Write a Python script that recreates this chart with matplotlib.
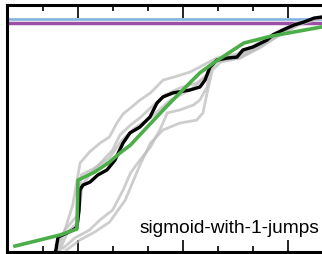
import matplotlib
matplotlib.use("Agg")
import matplotlib.pyplot as plt
from matplotlib.ticker import MultipleLocator

# reference levels
blue_level = 0.945
purple_level = 0.929

# sigmoid with one jump (fit)
green_x = [0.40, 0.64, 0.83, 0.99, 1.00, 1.16, 1.30, 1.40, 1.50, 1.66, 1.83, 1.97,
           2.16, 2.29, 2.45, 2.58, 2.84, 3.06, 3.32]
green_y = [0.024, 0.049, 0.069, 0.093, 0.291, 0.324, 0.364, 0.401, 0.433, 0.506, 0.583,
           0.644, 0.725, 0.765, 0.810, 0.846, 0.874, 0.891, 0.911]

# mean curve
black_x = [0.76, 0.79, 0.81, 0.895, 0.952, 0.99, 1.01, 1.019, 1.048, 1.114, 1.19, 1.276,
           1.352, 1.429, 1.495, 1.59, 1.686, 1.752, 1.81, 1.905, 2.067, 2.162, 2.21,
           2.257, 2.324, 2.419, 2.514, 2.571, 2.667, 2.80, 2.857, 2.952, 3.057, 3.152,
           3.248, 3.324]
black_y = [-0.02, 0.008, 0.061, 0.077, 0.089, 0.101, 0.17, 0.251, 0.271, 0.283, 0.312,
           0.332, 0.372, 0.441, 0.482, 0.506, 0.547, 0.603, 0.628, 0.644, 0.656, 0.668,
           0.696, 0.749, 0.777, 0.785, 0.789, 0.818, 0.83, 0.858, 0.879, 0.899, 0.919,
           0.931, 0.947, 0.951]

# individual runs
gray_runs = [
    ([0.81, 0.89, 0.95, 1.02, 1.11, 1.21, 1.30, 1.37, 1.43, 1.50, 1.59, 1.69, 1.81,
      1.92, 2.07, 2.23, 2.32, 2.51, 2.67, 2.86, 3.06, 3.32],
     [0.008, 0.109, 0.190, 0.360, 0.405, 0.441, 0.466, 0.522, 0.559, 0.583, 0.615,
      0.644, 0.696, 0.709, 0.729, 0.765, 0.785, 0.801, 0.834, 0.883, 0.923, 0.955]),
    ([0.83, 0.90, 1.00, 1.04, 1.13, 1.24, 1.33, 1.40, 1.50, 1.59, 1.69, 1.83, 1.97,
      2.13, 2.23, 2.32, 2.54, 2.73, 2.92, 3.11, 3.32],
     [0.008, 0.081, 0.121, 0.271, 0.324, 0.372, 0.413, 0.474, 0.514, 0.543, 0.583,
      0.636, 0.664, 0.684, 0.717, 0.777, 0.798, 0.838, 0.887, 0.923, 0.951]),
    ([0.86, 0.97, 1.11, 1.21, 1.33, 1.43, 1.50, 1.59, 1.69, 1.78, 1.85, 1.97, 2.10,
      2.16, 2.23, 2.26, 2.32, 2.54, 2.73, 2.92, 3.11, 3.32],
     [0.016, 0.057, 0.089, 0.130, 0.170, 0.251, 0.320, 0.372, 0.425, 0.494, 0.563,
      0.575, 0.595, 0.615, 0.668, 0.749, 0.777, 0.785, 0.826, 0.879, 0.923, 0.947]),
    ([0.89, 1.02, 1.16, 1.30, 1.45, 1.59, 1.69, 1.81, 1.97, 2.13, 2.19, 2.23, 2.28,
      2.36, 2.54, 2.73, 2.97, 3.16, 3.32],
     [0.008, 0.049, 0.081, 0.121, 0.210, 0.352, 0.441, 0.494, 0.522, 0.534, 0.563,
      0.644, 0.737, 0.769, 0.785, 0.830, 0.891, 0.931, 0.947]),
    ([0.79, 0.89, 1.00, 1.03, 1.16, 1.30, 1.42, 1.54, 1.69, 1.88, 2.07, 2.21, 2.30,
      2.49, 2.73, 3.02, 3.32],
     [0.028, 0.097, 0.150, 0.312, 0.340, 0.381, 0.453, 0.502, 0.543, 0.615, 0.656,
      0.704, 0.769, 0.789, 0.842, 0.911, 0.947]),
]

label = "sigmoid-with-1-jumps"

fig = plt.figure(figsize=(3.22, 2.54), dpi=100)
ax = fig.add_axes([7 / 322, 2 / 254, 333 / 322, 247 / 254])

ax.axhline(blue_level, color="#86b6de", lw=2, zorder=1)
ax.axhline(purple_level, color="#9b4fa5", lw=2.5, zorder=1)

for gx, gy in gray_runs:
    ax.plot(gx, gy, color="#bdbdbd", lw=2, alpha=0.75, zorder=2)
ax.plot(black_x, black_y, color="black", lw=2.4, zorder=3)
ax.plot(green_x, green_y, color="#4cae49", lw=2.6, zorder=4)

ax.set_xlim(0.324, 0.324 + 333 / 105)
ax.set_ylim(0, 1)

ax.xaxis.set_major_locator(MultipleLocator(1))
ax.xaxis.set_minor_locator(MultipleLocator(1 / 3))
ax.tick_params(axis="x", which="both", direction="in", top=True, bottom=True,
               labelbottom=False, labeltop=False, width=1.2)
ax.tick_params(axis="x", which="major", length=9)
ax.tick_params(axis="x", which="minor", length=4.5)
ax.tick_params(axis="y", left=False, labelleft=False)

for side in ["left", "top", "bottom", "right"]:
    ax.spines[side].set_linewidth(2.2)

fig.text(319 / 322, 1 - 233 / 254, label, ha="right", va="baseline",
         fontsize=13.8, family="Liberation Sans")

fig.savefig("out.png", dpi=100)
